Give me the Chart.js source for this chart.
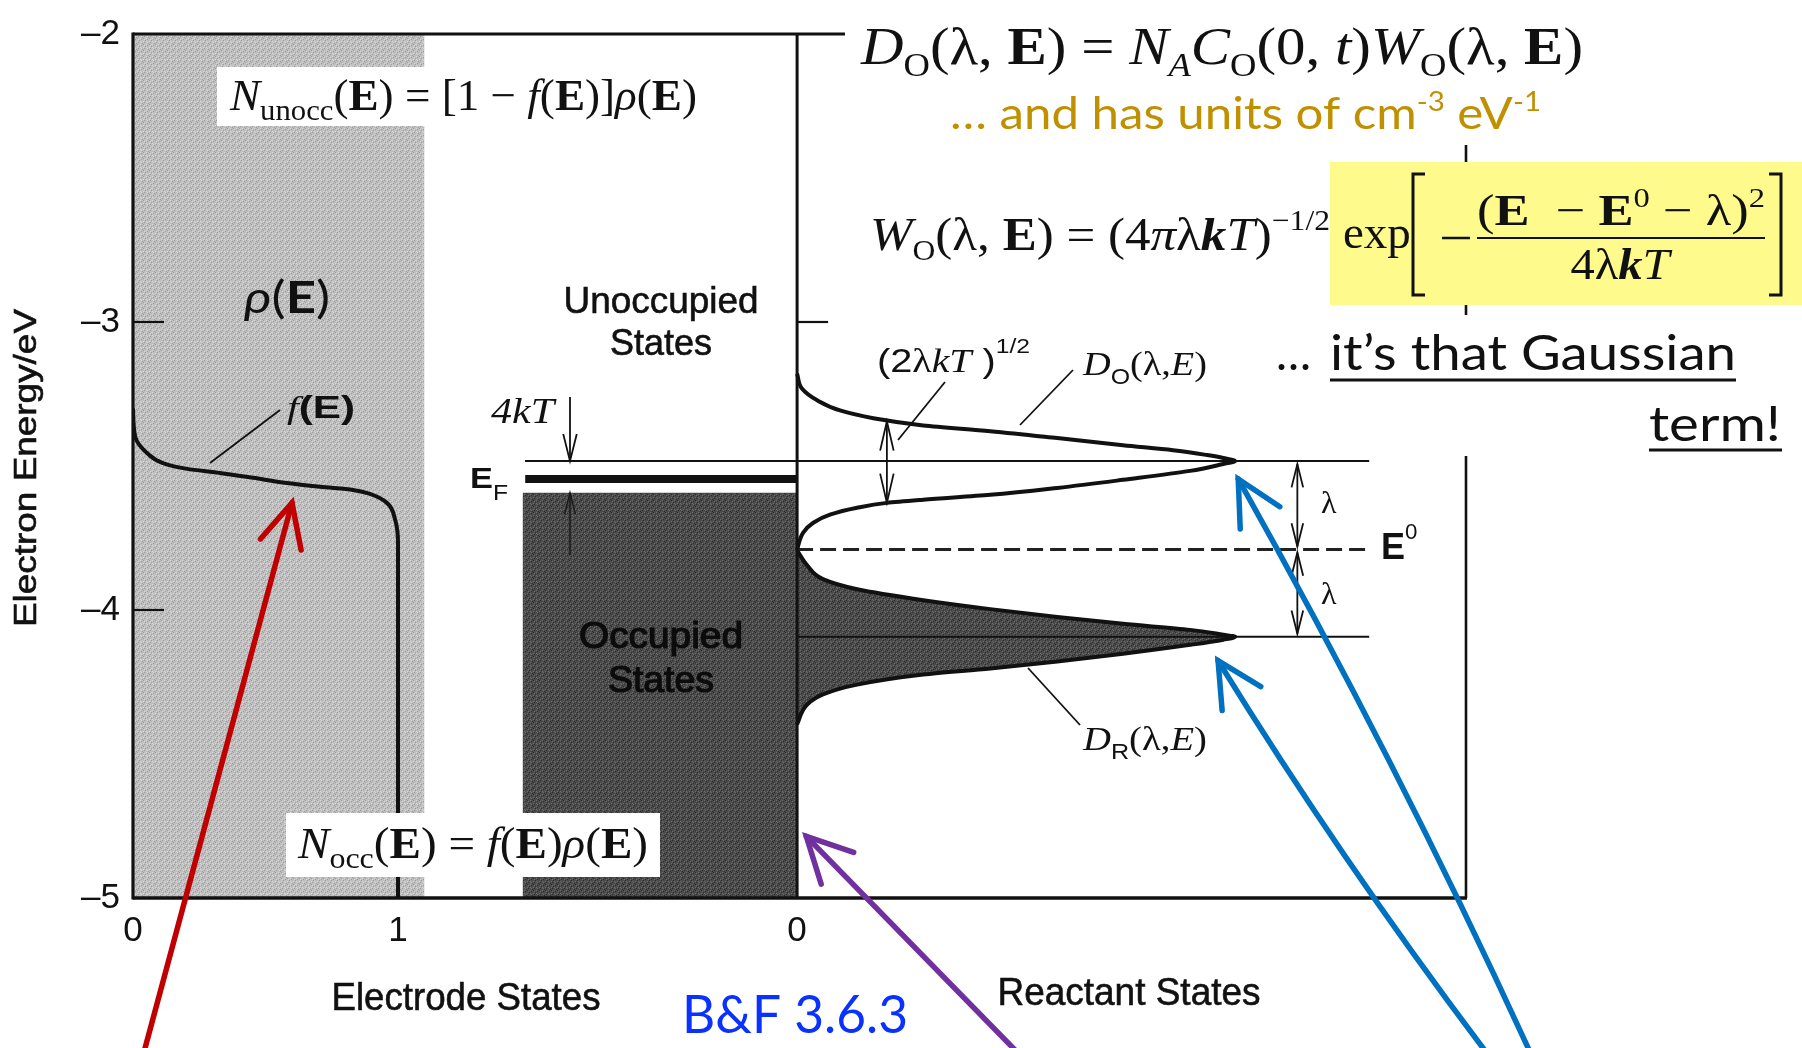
<!DOCTYPE html>
<html>
<head>
<meta charset="utf-8">
<script src="https://cdn.jsdelivr.net/npm/chart.js@4.4.1/dist/chart.umd.min.js"></script>
<style>
  html, body { margin: 0; padding: 0; background: #fff; overflow: hidden; }
  canvas { display: block; }
</style>
</head>
<body>
<canvas id="c" width="1802" height="1048"></canvas>
<script>
// ---------------- values ----------------
const energyTicks = [-2, -3, -4, -5];
const electrodeTicks = [0, 1];

// Fermi occupancy f(E) of the electrode states
const fermiF = [0, 0.008, 0.053, 0.113, 0.204, 0.328, 0.453, 0.581, 0.706, 0.830, 0.894, 0.958, 0.989, 1, 1];
const fermiE = [-3.30, -3.397, -3.455, -3.490, -3.510, -3.524, -3.541, -3.559, -3.572, -3.583, -3.597, -3.628, -3.686, -3.766, -5];

// oxidised reactant distribution D_O(λ,E)
const oxE = [-3.179, -3.231, -3.272, -3.307, -3.334, -3.359, -3.379, -3.403, -3.428, -3.445, -3.462, -3.472, -3.483,
             -3.493, -3.517, -3.548, -3.576, -3.600, -3.617, -3.628, -3.645, -3.669, -3.697, -3.731, -3.790];
const oxD = [0, 0.011, 0.046, 0.098, 0.174, 0.288, 0.441, 0.594, 0.744, 0.858, 0.936, 0.973, 1.0,
             0.973, 0.897, 0.744, 0.594, 0.441, 0.288, 0.205, 0.137, 0.075, 0.037, 0.014, 0];

// reduced reactant distribution D_R(λ,E)
const redE = [-3.793, -3.845, -3.893, -3.928, -3.966, -3.997, -4.024, -4.048, -4.069, -4.086, -4.093,
              -4.103, -4.121, -4.152, -4.179, -4.203, -4.224, -4.259, -4.293, -4.328, -4.397];
const redD = [0, 0.023, 0.059, 0.137, 0.288, 0.441, 0.594, 0.744, 0.897, 0.973, 1.0,
              0.973, 0.897, 0.744, 0.594, 0.441, 0.288, 0.137, 0.059, 0.023, 0];

// energy levels (eV)
const levelO = -3.483;      // peak of D_O, also top of the 4kT window
const levelE0 = -3.790;     // formal potential E0
const levelR = -4.093;      // peak of D_R
const levelEF = -3.545;     // Fermi level
const occupiedTop = -3.593; // top of the occupied band

// extents along the axes
const electrodeBand = [0, 1.10];     // rho(E) block, electrode units
const occupiedStart = 1.47;          // occupied block left edge, electrode units
const levelOSpan = [-0.621, 1.306];  // reactant units
const levelE0Span = [0, 1.30];
const levelRSpan = [0, 1.306];

// axis ranges
const xeMax = 5.03;
const xrMin = -1.516, xrMax = 1.527;
const midE = (0 - xrMin) / (xrMax - xrMin) * xeMax; // reactant zero in electrode units

// ---------------- helpers ----------------
const pts = (xs, ys) => xs.map((x, i) => ({ x, y: ys[i] }));

function makePattern(base, light, dark) {
  const c = document.createElement('canvas');
  c.width = c.height = 6;
  const g = c.getContext('2d');
  g.fillStyle = base; g.fillRect(0, 0, 6, 6);
  g.fillStyle = dark;
  [[0, 0], [3, 3], [1, 4], [4, 1], [5, 2]].forEach(([i, j]) => g.fillRect(i, j, 1, 1));
  g.fillStyle = light;
  [[0, 3], [3, 0], [2, 2], [5, 5], [2, 5]].forEach(([i, j]) => g.fillRect(i, j, 1, 1));
  return g.createPattern(c, 'repeat');
}
const lightFill = makePattern('#bfbfbf', '#d8d8d8', '#9c9c9c');
const darkFill = makePattern('#4b4b4b', '#6c6c6c', '#2c2c2c');

const FAM = {
  serif: '"Liberation Serif", "Times New Roman", "DejaVu Serif", serif',
  sans: '"Liberation Sans", Arial, Helvetica, sans-serif',
  cal: 'Lato, "Open Sans", "Noto Sans", sans-serif'
};
function fontOf(r, size) {
  return (r.i ? 'italic ' : '') + (r.b ? 'bold ' : '') +
    (size * (r.s || 1)).toFixed(1) + 'px ' + FAM[r.f || 'serif'];
}
// draw a run of mixed-style text; optional width squeezes/stretches it horizontally
function rich(ctx, runs, x, y, size, opt = {}) {
  let w = 0;
  for (const r of runs) { ctx.font = fontOf(r, size); r._w = ctx.measureText(r.t).width; w += r._w; }
  const sx = opt.width ? opt.width / w : 1;
  const total = w * sx;
  const x0 = opt.align === 'center' ? x - total / 2 : opt.align === 'right' ? x - total : x;
  ctx.save();
  ctx.translate(x0, y);
  ctx.scale(sx, 1);
  ctx.fillStyle = opt.color || '#111';
  ctx.textAlign = 'left';
  ctx.textBaseline = 'alphabetic';
  let cx = 0;
  for (const r of runs) {
    ctx.font = fontOf(r, size);
    ctx.fillText(r.t, cx, (r.dy || 0) * size);
    if (opt.stroke) { ctx.lineWidth = opt.stroke; ctx.strokeStyle = opt.color || '#111'; ctx.strokeText(r.t, cx, (r.dy || 0) * size); }
    cx += r._w;
  }
  ctx.restore();
  return { x0, total };
}
function seg(ctx, x1, y1, x2, y2, w, color, dash) {
  ctx.save();
  ctx.beginPath();
  ctx.moveTo(x1, y1); ctx.lineTo(x2, y2);
  ctx.lineWidth = w; ctx.strokeStyle = color || '#111';
  if (dash) ctx.setLineDash(dash);
  ctx.stroke();
  ctx.restore();
}
// open V arrow head at (tx,ty), pointing away from (fx,fy)
function head(ctx, tx, ty, fx, fy, len, deg, w, color, cap) {
  const a = Math.atan2(fy - ty, fx - tx), d = deg * Math.PI / 180;
  ctx.save();
  ctx.beginPath();
  ctx.moveTo(tx + len * Math.cos(a - d), ty + len * Math.sin(a - d));
  ctx.lineTo(tx, ty);
  ctx.lineTo(tx + len * Math.cos(a + d), ty + len * Math.sin(a + d));
  ctx.lineWidth = w; ctx.strokeStyle = color || '#111';
  ctx.lineCap = cap || 'butt'; ctx.lineJoin = 'miter';
  ctx.stroke();
  ctx.restore();
}
function arrow(ctx, fx, fy, tx, ty, w, color, len, deg) {
  ctx.save(); ctx.lineCap = 'round';
  ctx.beginPath(); ctx.moveTo(fx, fy); ctx.lineTo(tx, ty);
  ctx.lineWidth = w; ctx.strokeStyle = color; ctx.stroke();
  ctx.restore();
  head(ctx, tx, ty, fx, fy, len, deg, w, color, 'round');
}
// gently bowed pointer (quadratic), head aligned with the final tangent
function bowedArrow(ctx, fx, fy, cx, cy, tx, ty, w, color, len, deg) {
  ctx.save(); ctx.lineCap = 'round';
  ctx.beginPath(); ctx.moveTo(fx, fy); ctx.quadraticCurveTo(cx, cy, tx, ty);
  ctx.lineWidth = w; ctx.strokeStyle = color; ctx.stroke();
  ctx.restore();
  head(ctx, tx, ty, cx, cy, len, deg, w, color, 'round');
}
function dbl(ctx, x, y1, y2, w, len, deg) {
  seg(ctx, x, y1, x, y2, w);
  head(ctx, x, y1, x, y2, len, deg, w);
  head(ctx, x, y2, x, y1, len, deg, w);
}
function whiteBox(ctx, x, y, w, h, color) {
  ctx.save(); ctx.fillStyle = color || '#fff'; ctx.fillRect(x, y, w, h); ctx.restore();
}

// ---------------- figure layer ----------------
const figurePlugin = {
  id: 'figureLayer',
  beforeDraw(chart) {
    const ctx = chart.ctx;
    ctx.save(); ctx.fillStyle = '#fff'; ctx.fillRect(0, 0, chart.width, chart.height); ctx.restore();
  },
  afterDatasetsDraw(chart) {
    const ctx = chart.ctx, a = chart.chartArea;
    const X = v => chart.scales.x.getPixelForValue(v);
    const XR = v => chart.scales.xr.getPixelForValue(v);
    const Y = v => chart.scales.y.getPixelForValue(v);

    // frame and axes
    seg(ctx, a.left, a.top - 1.5, a.left, a.bottom + 1.5, 3.2);
    seg(ctx, a.left, a.bottom, a.right + 1, a.bottom, 3.6);
    seg(ctx, a.left, a.top, a.right, a.top, 3.2);
    seg(ctx, a.right, a.top, a.right, a.bottom, 2.6);
    seg(ctx, XR(0), a.top, XR(0), a.bottom, 3);
    [-3, -4].forEach(v => seg(ctx, a.left, Y(v), a.left + 31, Y(v), 2.2));
    seg(ctx, XR(0), Y(-3), XR(0) + 31, Y(-3), 2.2);

    // leader lines
    seg(ctx, 280, 410, 210, 463, 1.8);
    seg(ctx, 945, 382, 898, 440, 1.8);
    seg(ctx, 1073, 370, 1020, 425, 1.8);
    seg(ctx, 1080, 725, 1028, 668, 1.8);

    // 4kT markers
    const xk = X(1.649);
    seg(ctx, xk, 397, xk, Y(levelO), 1.8);
    head(ctx, xk, Y(levelO), xk, 397, 28, 14, 1.8);
    seg(ctx, xk, Y(-3.81), xk, Y(occupiedTop), 1.5, '#1a1a1a');
    head(ctx, xk, Y(occupiedTop), xk, Y(-3.81), 22, 14, 1.5, '#1a1a1a');

    // width of D_O
    dbl(ctx, XR(0.205), Y(-3.345), Y(-3.628), 1.8, 30, 13);
    // reorganisation energy markers
    dbl(ctx, XR(1.142), Y(levelO) + 3, Y(levelE0) - 3, 1.8, 24, 14);
    dbl(ctx, XR(1.142), Y(levelE0) + 3, Y(levelR) - 3, 1.8, 24, 14);

    // text inside the figure
    const SW = 0.6; // slight weight, like the printed figure
    whiteBox(ctx, 217, 67, 488, 59);
    rich(ctx, [{ t: 'N', i: 1 }, { t: 'unocc', s: .68, dy: .22 }, { t: '(' }, { t: 'E', b: 1 }, { t: ') = [1 − ' },
               { t: 'f', i: 1 }, { t: '(' }, { t: 'E', b: 1 }, { t: ')]' }, { t: 'ρ', i: 1 }, { t: '(' }, { t: 'E', b: 1 }, { t: ')' }],
         230, 110, 44, { width: 467 });

    rich(ctx, [{ t: 'ρ', i: 1, f: 'cal' }, { t: '(', f: 'cal' }, { t: 'E', b: 1, f: 'cal' }, { t: ')', f: 'cal' }],
         244, 313, 44, { width: 86 });
    rich(ctx, [{ t: 'f', i: 1 }, { t: '(E)', f: 'sans', b: 1 }], 287, 418, 32, { width: 68 });

    rich(ctx, [{ t: 'Unoccupied', f: 'sans' }], 661, 313, 36, { width: 195, align: 'center', stroke: SW });
    rich(ctx, [{ t: 'States', f: 'sans' }], 661, 355, 36, { width: 102, align: 'center', stroke: SW });
    rich(ctx, [{ t: 'Occupied', f: 'sans' }], 661, 648, 36, { width: 164, align: 'center', color: '#0c0c0c', stroke: 1.2 });
    rich(ctx, [{ t: 'States', f: 'sans' }], 661, 692, 36, { width: 106, align: 'center', color: '#0c0c0c', stroke: 1.2 });

    rich(ctx, [{ t: '4', i: 1 }, { t: 'k', i: 1 }, { t: 'T', i: 1 }], 491, 423, 36, { width: 63 });
    rich(ctx, [{ t: 'E', f: 'sans', b: 1 }, { t: 'F', f: 'sans', s: .72, dy: .4 }], 470, 488, 30, { width: 38 });

    rich(ctx, [{ t: '(2', f: 'sans' }, { t: 'λ' }, { t: 'k', i: 1 }, { t: 'T', i: 1 }, { t: ' )', f: 'sans' },
               { t: '1/2', f: 'sans', s: .62, dy: -.55 }], 877, 372, 34, { width: 153 });
    rich(ctx, [{ t: 'D', i: 1 }, { t: 'O', f: 'sans', s: .65, dy: .25 }, { t: '(λ,' }, { t: 'E', i: 1 }, { t: ')' }],
         1083, 375, 34, { width: 124 });
    rich(ctx, [{ t: 'D', i: 1 }, { t: 'R', f: 'sans', s: .65, dy: .25 }, { t: '(λ,' }, { t: 'E', i: 1 }, { t: ')' }],
         1083, 750, 34, { width: 124 });
    rich(ctx, [{ t: 'λ' }], 1321, 513, 32);
    rich(ctx, [{ t: 'λ' }], 1321, 604, 32);
    rich(ctx, [{ t: 'E', f: 'sans', b: 1 }, { t: '0', f: 'sans', s: .62, dy: -.55 }], 1381, 559, 36);

    whiteBox(ctx, 286, 813, 374, 64);
    rich(ctx, [{ t: 'N', i: 1 }, { t: 'occ', s: .68, dy: .22 }, { t: '(' }, { t: 'E', b: 1 }, { t: ') = ' },
               { t: 'f', i: 1 }, { t: '(' }, { t: 'E', b: 1 }, { t: ')' }, { t: 'ρ', i: 1 }, { t: '(' }, { t: 'E', b: 1 }, { t: ')' }],
         298, 858, 44, { width: 350 });
  },
  afterDraw(chart) {
    const ctx = chart.ctx;
    const X = v => chart.scales.x.getPixelForValue(v);
    const XR = v => chart.scales.xr.getPixelForValue(v);
    const Y = v => chart.scales.y.getPixelForValue(v);
    const SW = 0.6;

    // axis titles
    rich(ctx, [{ t: 'Electrode States', f: 'sans' }], 466, 1010, 39, { width: 269, align: 'center', stroke: SW });
    rich(ctx, [{ t: 'Reactant States', f: 'sans' }], 1129, 1005, 39, { width: 263, align: 'center', stroke: SW });
    ctx.save();
    ctx.translate(36, 468); ctx.rotate(-Math.PI / 2);
    rich(ctx, [{ t: 'Electron Energy/eV', f: 'sans' }], 0, 0, 31, { width: 318, align: 'center', stroke: SW });
    ctx.restore();

    // D_O definition
    whiteBox(ctx, 845, 0, 957, 145);
    rich(ctx, [{ t: 'D', i: 1 }, { t: 'O', s: .62, dy: .22 }, { t: '(λ, ' }, { t: 'E', b: 1 }, { t: ') = ' },
               { t: 'N', i: 1 }, { t: 'A', i: 1, s: .62, dy: .22 }, { t: 'C', i: 1 }, { t: 'O', s: .62, dy: .22 },
               { t: '(0, ' }, { t: 't', i: 1 }, { t: ')' }, { t: 'W', i: 1 }, { t: 'O', s: .62, dy: .22 },
               { t: '(λ, ' }, { t: 'E', b: 1 }, { t: ')' }], 861, 64, 53, { width: 722 });
    rich(ctx, [{ t: '… and has units of cm', f: 'cal' }, { t: '-3', f: 'cal', s: .6, dy: -.42 },
               { t: ' eV', f: 'cal' }, { t: '-1', f: 'cal', s: .6, dy: -.42 }],
         950, 129, 44, { width: 591, color: '#bf9000' });

    // W_O definition
    rich(ctx, [{ t: 'W', i: 1 }, { t: 'O', s: .62, dy: .22 }, { t: '(λ, ' }, { t: 'E', b: 1 }, { t: ') = (4' },
               { t: 'π', i: 1 }, { t: 'λ' }, { t: 'k', i: 1, b: 1 }, { t: 'T', i: 1 }, { t: ')' },
               { t: '−1/2', s: .62, dy: -.42 }], 870, 250, 47, { width: 460 });
    whiteBox(ctx, 1330, 162, 472, 143, 'rgb(255,250,140)');
    rich(ctx, [{ t: 'exp' }], 1343, 248, 47);
    // brackets
    ctx.save();
    ctx.strokeStyle = '#111'; ctx.lineWidth = 3;
    ctx.beginPath();
    ctx.moveTo(1425, 174); ctx.lineTo(1413, 174); ctx.lineTo(1413, 295); ctx.lineTo(1425, 295);
    ctx.moveTo(1769, 174); ctx.lineTo(1781, 174); ctx.lineTo(1781, 295); ctx.lineTo(1769, 295);
    ctx.stroke();
    ctx.restore();
    seg(ctx, 1442, 238, 1470, 238, 2.5);
    seg(ctx, 1477, 238, 1765, 238, 2);
    rich(ctx, [{ t: '(' }, { t: 'E', b: 1 }, { t: '  − ' }, { t: 'E', b: 1 }, { t: '0', s: .62, dy: -.42 },
               { t: ' − λ)' }, { t: '2', s: .62, dy: -.42 }], 1477, 225, 44, { width: 288 });
    rich(ctx, [{ t: '4λ' }, { t: 'k', i: 1, b: 1 }, { t: 'T', i: 1 }], 1620, 279, 44, { width: 99, align: 'center' });

    // remark
    whiteBox(ctx, 1262, 315, 540, 141);
    rich(ctx, [{ t: '…', f: 'cal' }], 1276, 370, 48, { width: 35 });
    rich(ctx, [{ t: 'it’s that Gaussian', f: 'cal' }], 1330, 370, 48, { width: 406 });
    seg(ctx, 1330, 380, 1736, 380, 3);
    rich(ctx, [{ t: 'term!', f: 'cal' }], 1781, 441, 48, { width: 132, align: 'right' });
    seg(ctx, 1649, 450, 1782, 450, 3);

    rich(ctx, [{ t: 'B&F 3.6.3', f: 'cal' }], 682, 1033, 52, { width: 226, color: '#0a32ff' });

    // pointers
    arrow(ctx, 144, 1052, X(0.60), Y(-3.628), 5.5, '#c00000', 48, 26);
    arrow(ctx, 1017, 1052, XR(0.021), Y(-4.786), 5.5, '#7030a0', 50, 27);
    bowedArrow(ctx, 1530, 1052, 1396, 760, XR(1.007), Y(-3.545), 5.5, '#0070c0', 50, 27);
    bowedArrow(ctx, 1486, 1052, 1341, 860, XR(0.961), Y(-4.176), 5.5, '#0070c0', 50, 27);
  }
};

// ---------------- chart ----------------
const ctx = document.getElementById('c').getContext('2d');
new Chart(ctx, {
  type: 'line',
  data: {
    datasets: [
      { // rho(E) block
        data: [{ x: electrodeBand[0], y: -2 }, { x: electrodeBand[1], y: -2 }],
        xAxisID: 'x', borderWidth: 0, pointRadius: 0, fill: 'start', backgroundColor: lightFill, order: 20
      },
      { // occupied states block
        data: [{ x: occupiedStart, y: occupiedTop }, { x: midE, y: occupiedTop }],
        xAxisID: 'x', borderWidth: 0, pointRadius: 0, fill: 'start', backgroundColor: darkFill, order: 19
      },
      { // Fermi level band
        data: [{ x: occupiedStart + 0.01, y: levelEF }, { x: midE, y: levelEF }],
        xAxisID: 'x', borderWidth: 8, borderColor: '#111', pointRadius: 0, fill: false, order: 4
      },
      { // D_R, filled
        data: pts(redD, redE), xAxisID: 'xr', indexAxis: 'y',
        cubicInterpolationMode: 'monotone', borderWidth: 4, borderColor: '#111',
        backgroundColor: darkFill, fill: { value: 0 }, pointRadius: 0, order: 6
      },
      { // level of the D_O peak
        data: [{ x: levelOSpan[0], y: levelO }, { x: levelOSpan[1], y: levelO }],
        xAxisID: 'xr', borderWidth: 2, borderColor: '#111', pointRadius: 0, fill: false, order: 3
      },
      { // E0
        data: [{ x: levelE0Span[0], y: levelE0 }, { x: levelE0Span[1], y: levelE0 }],
        xAxisID: 'xr', borderWidth: 3, borderColor: '#222', borderDash: [16, 7], pointRadius: 0, fill: false, order: 3
      },
      { // level of the D_R peak
        data: [{ x: levelRSpan[0], y: levelR }, { x: levelRSpan[1], y: levelR }],
        xAxisID: 'xr', borderWidth: 2, borderColor: '#111', pointRadius: 0, fill: false, order: 3
      },
      { // D_O
        data: pts(oxD, oxE), xAxisID: 'xr', indexAxis: 'y',
        cubicInterpolationMode: 'monotone', borderWidth: 4, borderColor: '#111', pointRadius: 0, fill: false, order: 1
      },
      { // f(E)
        data: pts(fermiF, fermiE), xAxisID: 'x', indexAxis: 'y',
        cubicInterpolationMode: 'monotone', borderWidth: 4, borderColor: '#111', pointRadius: 0, fill: false, order: 1
      }
    ]
  },
  options: {
    responsive: false,
    animation: false,
    devicePixelRatio: 1,
    layout: { padding: { top: 28, right: 336, left: 0, bottom: 0 } },
    plugins: { legend: { display: false }, tooltip: { enabled: false } },
    elements: { line: { capBezierPoints: false } },
    scales: {
      x: {
        type: 'linear', position: 'bottom', min: 0, max: xeMax,
        grid: { display: false, drawTicks: false }, border: { display: false },
        afterBuildTicks: s => { s.ticks = electrodeTicks.concat([midE]).map(v => ({ value: v })); },
        afterFit: s => { s.height = 150; },
        ticks: {
          autoSkip: false, maxRotation: 0, padding: 12, color: '#111',
          font: { family: '"Liberation Sans", Arial, sans-serif', size: 35 },
          callback: v => (Math.abs(v - midE) < 1e-6 ? '0' : String(v))
        }
      },
      xr: { type: 'linear', display: false, min: xrMin, max: xrMax },
      y: {
        type: 'linear', position: 'left', min: -5, max: -2,
        grid: { display: false, drawTicks: false }, border: { display: false },
        afterBuildTicks: s => { s.ticks = energyTicks.map(v => ({ value: v })); },
        afterFit: s => { s.width = 133; },
        ticks: {
          padding: 13, color: '#111',
          font: { family: '"Liberation Sans", Arial, sans-serif', size: 35 },
          callback: v => String(v).replace('-', '–')
        }
      }
    }
  },
  plugins: [figurePlugin]
});
</script>
</body>
</html>
